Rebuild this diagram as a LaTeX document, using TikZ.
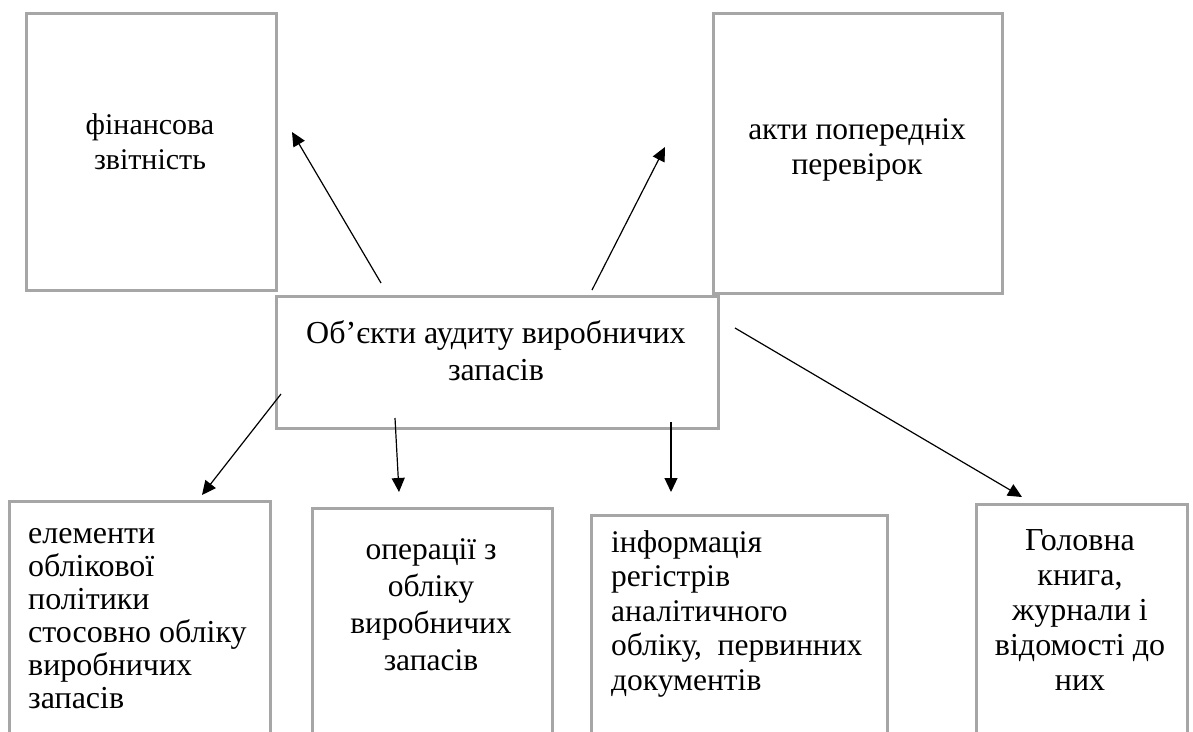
\documentclass[tikz,border=0pt]{standalone}
\usepackage{fontspec}
\setmainfont{Liberation Serif}
\usetikzlibrary{arrows.meta}
\definecolor{boxgray}{HTML}{A6A6A6}
% multi-line text whose baseline is that of its first line
\newcommand\textstack[2]{\begin{tabular}[t]{@{}#1@{}}#2\end{tabular}}
\tikzset{
  frame/.style={draw=boxgray, line width=2.6pt, inner sep=0pt, anchor=north west},
  label/.style={inner sep=0pt, anchor=base},
  leftlabel/.style={inner sep=0pt, anchor=base west},
  link/.style={line width=1.2pt, -{Triangle[length=14pt,width=13pt]}},
}
\begin{document}
\begin{tikzpicture}[x=1pt,y=-1pt]
\useasboundingbox (0,0) rectangle (1193,731);
\clip (0,0) rectangle (1193,731);

% frames
\node[frame, minimum width=250pt, minimum height=277pt] (fin) at (25,12) {};
\node[frame, minimum width=289pt, minimum height=280pt] (acts) at (712,12) {};
\node[frame, minimum width=442pt, minimum height=132pt] (obj) at (275,295) {};
\node[frame, minimum width=261pt, minimum height=260pt] (pol) at (8,500) {};
\node[frame, minimum width=240pt, minimum height=260pt] (ops) at (311,507) {};
\node[frame, minimum width=296pt, minimum height=260pt] (reg) at (590,514) {};
\node[frame, minimum width=211pt, minimum height=260pt] (led) at (975,503) {};

% texts
\node[label, font=\fontsize{30}{35}\selectfont] (tfin) at (150,134)
  {\textstack{c}{фінансова\\звітність}};
\node[label, font=\fontsize{31.5}{35}\selectfont] (tacts) at (857,139)
  {\textstack{c}{акти попередніх\\перевірок}};
\node[label, font=\fontsize{32}{37}\selectfont] (tobj) at (496,343)
  {\textstack{c}{Об’єкти аудиту виробничих\\запасів}};
\node[leftlabel, font=\fontsize{32}{33}\selectfont] (tpol) at (28,543)
  {\textstack{l}{елементи\\облікової\\політики\\стосовно обліку\\виробничих\\запасів}};
\node[label, font=\fontsize{31.5}{37}\selectfont] (tops) at (431,559)
  {\textstack{c}{операції з\\обліку\\виробничих\\запасів}};
\node[leftlabel, font=\fontsize{31.5}{34.5}\selectfont] (treg) at (611,552)
  {\textstack{l}{інформація\\регістрів\\аналітичного\\обліку,~ первинних\\документів}};
\node[label, font=\fontsize{32}{35}\selectfont] (tled) at (1080,550)
  {\textstack{c}{Головна\\книга,\\журнали і\\відомості до\\них}};

% connector ends
\coordinate (s1) at (381,283);  \coordinate (e1) at (292,132);
\coordinate (s2) at (592,290);  \coordinate (e2) at (665,147);
\coordinate (s3) at (281,394);  \coordinate (e3) at (202,495);
\coordinate (s4) at (395,418);  \coordinate (e4) at (399,492);
\coordinate (s5) at (671,422);  \coordinate (e5) at (671,492);
\coordinate (s6) at (735,328);  \coordinate (e6) at (1022,497);

\draw[link] (s1) -- (e1);
\draw[link] (s2) -- (e2);
\draw[link] (s3) -- (e3);
\draw[link] (s4) -- (e4);
\draw[link] (s5) -- (e5);
\draw[link] (s6) -- (e6);
\end{tikzpicture}
\end{document}
